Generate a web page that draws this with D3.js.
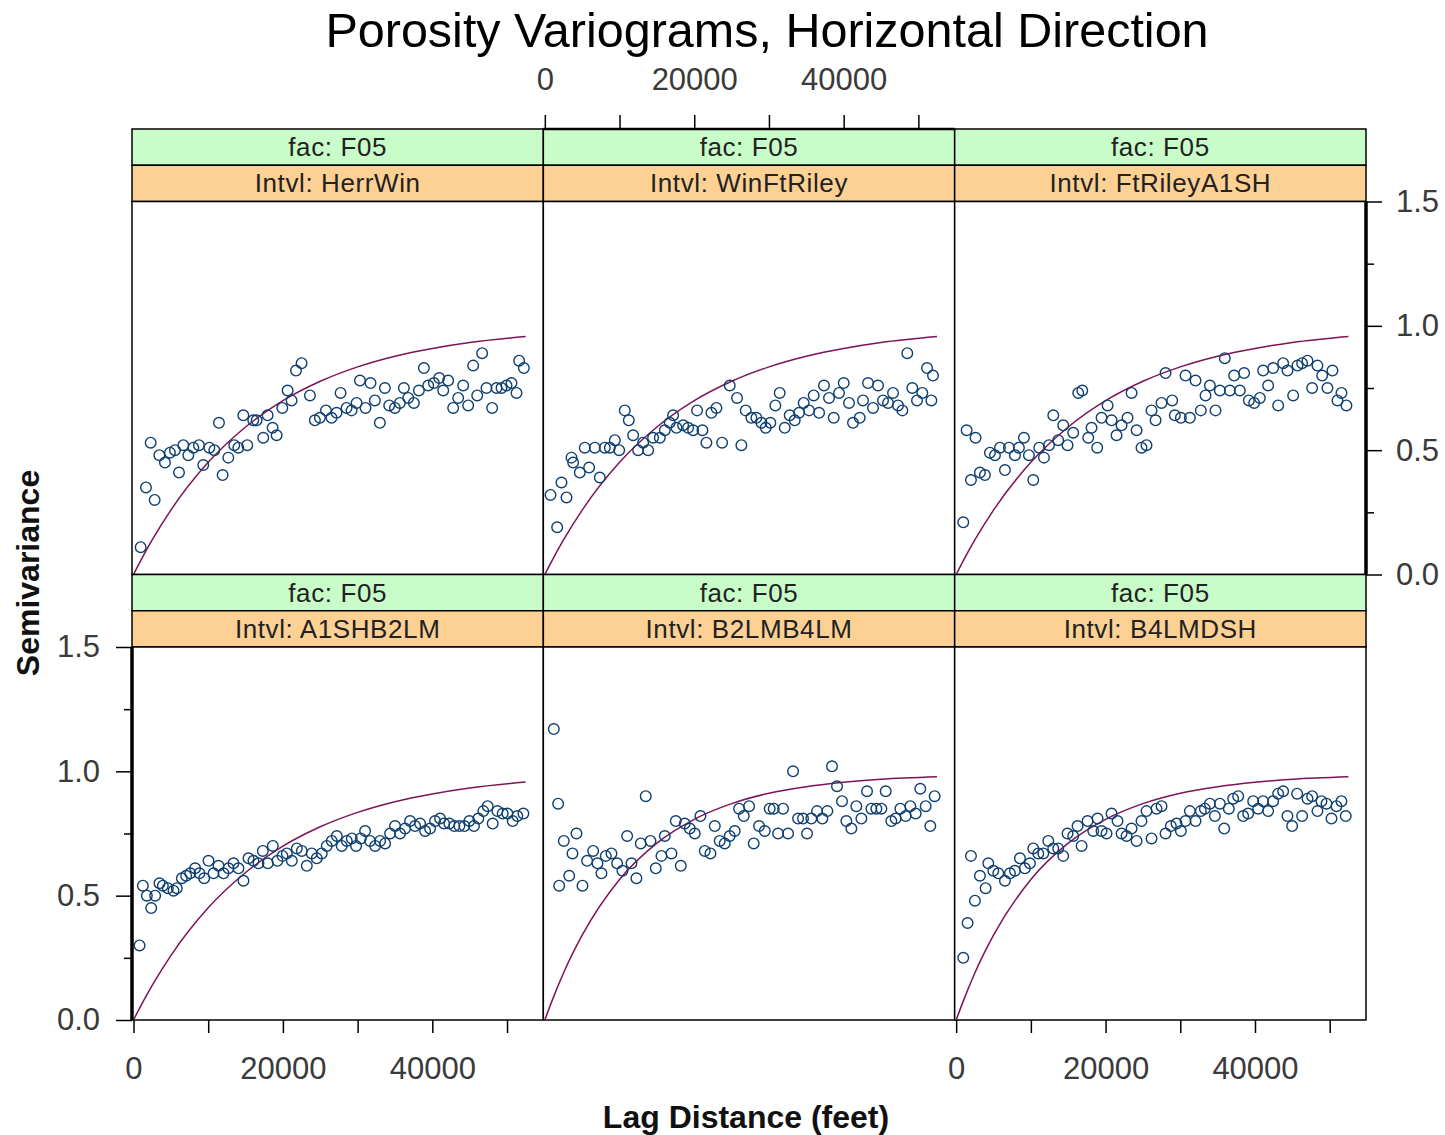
<!DOCTYPE html>
<html>
<head>
<meta charset="utf-8">
<script src="https://cdn.jsdelivr.net/npm/d3@7"></script>
<style>
  html, body { margin: 0; padding: 0; background: #ffffff; }
  svg { display: block; font-family: "Liberation Sans", Arial, sans-serif; }
</style>
</head>
<body>
<svg id="chart" width="1445" height="1135"></svg>
<script>
// ---------------- DATA ----------------
const facLabel = "F05";
const intervals = ["HerrWin", "WinFtRiley", "FtRileyA1SH", "A1SHB2LM", "B2LMB4LM", "B4LMDSH"];

const lagHerrWin = [960,1670,2830,2300,3460,4210,4880,5550,6090,6670,7340,8010,8760,9340,10150,10820,11440,11930,12690,13490,14030,14700,15230,16030,16480,17370,17950,18620,19160,19920,20630,21160,21750,22500,23620,24280,24950,25760,26510,27180,27720,28520,29190,29860,30310,31060,31730,32310,32980,33650,34230,34990,35660,36190,36770,37530,38200,38870,39450,40210,40920,41460,42120,42790,43460,44130,44800,45470,46010,46670,47250,48010,48590,49260,49930,50600,51270,51620,52250];
const semHerrWin = [0.11,0.35,0.30,0.53,0.48,0.45,0.49,0.50,0.41,0.52,0.48,0.51,0.52,0.44,0.51,0.50,0.61,0.40,0.47,0.52,0.51,0.64,0.52,0.62,0.62,0.55,0.64,0.59,0.56,0.67,0.74,0.70,0.82,0.85,0.72,0.62,0.63,0.66,0.63,0.65,0.73,0.67,0.66,0.69,0.78,0.67,0.77,0.70,0.61,0.75,0.68,0.67,0.69,0.75,0.71,0.69,0.74,0.83,0.76,0.77,0.79,0.74,0.78,0.67,0.71,0.76,0.68,0.84,0.72,0.89,0.75,0.67,0.75,0.75,0.76,0.77,0.73,0.86,0.83];

const lagWinFtRiley = [1650,760,2230,2900,3570,3790,4680,5350,5930,6690,7360,8030,8700,9370,9950,10700,11240,11820,12490,13160,13830,14490,15390,16060,16720,17170,17620,18510,19180,19850,20380,21100,21630,22300,22970,23730,24750,25730,26310,26890,27650,28320,28990,29570,30190,30860,31440,32110,32780,33450,34030,34650,35370,35990,36710,37370,38040,38670,39380,40010,40720,41250,42150,42590,43260,43930,44600,45270,45940,46610,47280,47860,48520,49190,49820,50530,51160,51740,51960];
const semWinFtRiley = [0.19,0.32,0.37,0.31,0.47,0.45,0.41,0.51,0.43,0.51,0.39,0.51,0.51,0.54,0.50,0.66,0.62,0.56,0.50,0.53,0.50,0.55,0.55,0.58,0.61,0.64,0.59,0.60,0.59,0.58,0.66,0.58,0.53,0.65,0.67,0.53,0.76,0.71,0.52,0.66,0.63,0.63,0.61,0.59,0.61,0.68,0.73,0.59,0.64,0.62,0.65,0.69,0.66,0.72,0.65,0.76,0.71,0.63,0.73,0.77,0.69,0.61,0.63,0.70,0.77,0.67,0.76,0.70,0.69,0.73,0.68,0.66,0.89,0.75,0.70,0.73,0.83,0.70,0.80];

const lagFtRileyA1SH = [950,1400,2600,1980,3180,3850,4520,5190,5860,6530,7060,7870,8400,9070,9740,10320,11120,11750,12420,13000,13660,14330,14910,15670,16340,16880,17680,18120,18880,19460,20270,20800,21470,22140,22940,23480,24150,24810,25480,26150,26690,27490,28030,28920,29270,30080,30700,31280,32040,32750,33380,33960,34720,35300,35960,36630,37210,37970,38550,39180,39890,40650,41090,41760,42430,43100,43770,44350,45110,45690,46310,47030,47650,48360,48990,49700,50370,51040,51570,52240];
const semFtRileyA1SH = [0.21,0.58,0.55,0.38,0.41,0.40,0.49,0.48,0.51,0.42,0.51,0.48,0.51,0.55,0.48,0.38,0.51,0.47,0.52,0.64,0.54,0.60,0.52,0.57,0.73,0.74,0.55,0.59,0.51,0.63,0.68,0.62,0.56,0.60,0.63,0.73,0.58,0.51,0.52,0.66,0.62,0.69,0.81,0.70,0.64,0.63,0.80,0.63,0.78,0.66,0.72,0.76,0.66,0.74,0.87,0.74,0.80,0.74,0.81,0.70,0.69,0.71,0.82,0.76,0.83,0.68,0.85,0.82,0.72,0.84,0.85,0.86,0.75,0.84,0.80,0.75,0.82,0.70,0.73,0.68];

const lagA1SHB2LM = [810,1250,1790,2370,2900,3480,3930,4600,5360,5800,6470,7050,7590,8250,8830,9460,10040,10710,11380,12050,12710,13380,14050,14720,15390,16060,16730,17310,17980,18650,19270,19940,20520,21190,21860,22530,23200,23860,24530,25200,25870,26540,27210,27880,28550,29220,29800,30420,31000,31670,32340,33010,33680,34350,35010,35680,36350,37020,37690,38360,39030,39700,40370,41040,41570,42280,42950,43620,44290,44960,45580,46160,46830,47410,48080,48710,49420,50050,50760,51380,52190];
const semA1SHB2LM = [0.30,0.54,0.50,0.45,0.50,0.55,0.54,0.53,0.52,0.53,0.57,0.58,0.59,0.61,0.59,0.57,0.64,0.59,0.62,0.59,0.61,0.63,0.61,0.56,0.65,0.64,0.63,0.68,0.63,0.70,0.64,0.66,0.67,0.64,0.69,0.68,0.62,0.67,0.65,0.67,0.70,0.72,0.74,0.70,0.72,0.73,0.70,0.73,0.76,0.72,0.70,0.72,0.71,0.75,0.78,0.75,0.77,0.80,0.78,0.79,0.76,0.77,0.80,0.81,0.79,0.79,0.78,0.78,0.78,0.80,0.78,0.81,0.84,0.86,0.79,0.84,0.83,0.83,0.80,0.82,0.83];

const lagB2LMB4LM = [1200,1780,1920,2540,3260,3700,4240,5040,5660,6470,7050,7580,8160,8920,9680,10390,11020,11600,12260,12840,13510,14140,14850,15610,16060,16950,17530,18200,18730,19400,20070,20830,21410,22170,22750,23410,24080,24750,25420,26000,26630,27340,27960,28680,29440,30100,30640,31220,31890,32560,33230,33900,34560,35100,35670,36440,37150,37820,38440,39110,39780,40360,41030,41700,42370,43130,43710,44380,45050,45630,46380,46960,47590,48300,48930,49640,50260,50980,51600,52180];
const semB2LMB4LM = [1.17,0.87,0.54,0.72,0.58,0.67,0.75,0.54,0.64,0.68,0.63,0.59,0.66,0.67,0.63,0.60,0.74,0.63,0.57,0.71,0.90,0.72,0.61,0.66,0.74,0.67,0.80,0.62,0.79,0.77,0.75,0.82,0.68,0.67,0.78,0.72,0.71,0.74,0.76,0.85,0.82,0.86,0.71,0.78,0.76,0.85,0.85,0.75,0.85,0.75,1.00,0.81,0.81,0.75,0.81,0.84,0.81,0.84,1.02,0.94,0.88,0.80,0.77,0.86,0.81,0.92,0.85,0.85,0.85,0.92,0.80,0.81,0.85,0.82,0.86,0.83,0.93,0.86,0.78,0.90];

const lagB4LMDSH = [950,1530,1980,2510,3180,3940,4300,4970,5640,6530,7200,7870,8540,9200,9870,10320,10990,11660,12330,13000,13660,14330,14910,15670,16250,16790,17590,18350,18930,19460,20130,20800,21600,22140,22810,23480,24150,24810,25480,26150,26820,27490,28030,28740,29500,30080,30700,31280,32040,32750,33290,33960,34630,35300,35880,36500,37080,37750,38420,39090,39760,40420,41090,41760,42430,43100,43770,44350,44970,45640,46310,47030,47650,48360,48900,49570,50240,50910,51570,52150];
const semB4LMDSH = [0.25,0.39,0.66,0.48,0.58,0.53,0.63,0.60,0.59,0.56,0.59,0.60,0.65,0.61,0.63,0.69,0.67,0.67,0.72,0.69,0.69,0.66,0.75,0.74,0.78,0.70,0.80,0.76,0.81,0.76,0.75,0.83,0.80,0.75,0.74,0.77,0.72,0.80,0.84,0.73,0.85,0.86,0.75,0.78,0.79,0.76,0.80,0.84,0.80,0.84,0.85,0.87,0.82,0.87,0.77,0.85,0.89,0.90,0.82,0.83,0.88,0.85,0.88,0.84,0.88,0.91,0.92,0.82,0.78,0.91,0.82,0.89,0.90,0.84,0.88,0.87,0.81,0.86,0.88,0.82];

// fitted model curves
const modelLag   = [0,1000,2500,5000,10000,15000,20000,25000,30000,35000,40000,45000,52500];
const modelLong  = [0,0.058,0.139,0.259,0.451,0.593,0.699,0.777,0.835,0.878,0.909,0.933,0.957];
const modelShort = [0,0.080,0.189,0.341,0.565,0.711,0.807,0.870,0.912,0.938,0.956,0.968,0.978];

const xTicks = [0,10000,20000,30000,40000,50000];
const xTickLabels = [0,20000,40000];
const yTicksMajor = [0,0.5,1.0,1.5];
const yTicksMinor = [0.25,0.75,1.25];

const panelLags = [lagHerrWin, lagWinFtRiley, lagFtRileyA1SH, lagA1SHB2LM, lagB2LMB4LM, lagB4LMDSH];
const panelSems = [semHerrWin, semWinFtRiley, semFtRileyA1SH, semA1SHB2LM, semB2LMB4LM, semB4LMDSH];
const panelModel = [modelLong, modelLong, modelLong, modelLong, modelShort, modelShort];

// ---------------- LAYOUT ----------------
const svg = d3.select("#chart");
const gridLeft = 132, gridRight = 1366, gridTop = 129;
const colW = (gridRight - gridLeft) / 3;
const stripH = 36.25, plotH = 373, rowH = 2 * stripH + plotH;
const fontTick = 31;

const green = "#c8fcc8", orange = "#fdd094";
const ptColor = "#0e3f6e", lineColor = "#7d1456";

svg.append("text")
  .attr("x", 767).attr("y", 47)
  .attr("text-anchor", "middle")
  .attr("font-size", 48.5)
  .attr("fill", "#000")
  .text("Porosity Variograms, Horizontal Direction");

const xDomain = [-200, 54860];
const yDomain = [0, 1.5];

intervals.forEach((iv, i) => {
  const row = Math.floor(i / 3), col = i % 3;
  const x0 = gridLeft + col * colW, x1 = x0 + colW;
  const sTop = gridTop + row * rowH;
  const pTop = sTop + 2 * stripH, pBot = pTop + plotH;

  const x = d3.scaleLinear().domain(xDomain).range([x0, x1]);
  const y = d3.scaleLinear().domain(yDomain).range([pBot, pTop]);

  const g = svg.append("g");

  // strips
  g.append("rect").attr("x", x0).attr("y", sTop).attr("width", colW).attr("height", stripH)
    .attr("fill", green).attr("stroke", "#000").attr("stroke-width", 1.5);
  g.append("rect").attr("x", x0).attr("y", sTop + stripH).attr("width", colW).attr("height", stripH)
    .attr("fill", orange).attr("stroke", "#000").attr("stroke-width", 1.5);
  g.append("text").attr("x", (x0 + x1) / 2).attr("y", sTop + stripH / 2 + 9)
    .attr("text-anchor", "middle").attr("font-size", 26).attr("letter-spacing", 0.6).attr("fill", "#222")
    .text("fac: " + facLabel);
  g.append("text").attr("x", (x0 + x1) / 2).attr("y", sTop + stripH * 1.5 + 9)
    .attr("text-anchor", "middle").attr("font-size", 26).attr("letter-spacing", 0.6).attr("fill", "#222")
    .text("Intvl: " + iv);

  // panel
  g.append("rect").attr("x", x0).attr("y", pTop).attr("width", colW).attr("height", plotH)
    .attr("fill", "#fff").attr("stroke", "#000").attr("stroke-width", 1.5);

  // model curve
  const line = d3.line().x((d, k) => x(modelLag[k])).y(d => y(d)).curve(d3.curveMonotoneX);
  g.append("path").attr("d", line(panelModel[i]))
    .attr("fill", "none").attr("stroke", lineColor).attr("stroke-width", 1.5);

  // points
  const lags = panelLags[i], sems = panelSems[i];
  const n = Math.min(lags.length, sems.length);
  const pts = d3.range(n).map(k => ({ h: lags[k], v: sems[k] }));
  g.selectAll("circle").data(pts).join("circle")
    .attr("cx", d => x(d.h)).attr("cy", d => y(d.v)).attr("r", 5.3)
    .attr("fill", "none").attr("stroke", ptColor).attr("stroke-width", 1.4);

  // axes
  const styleAxis = sel => {
    sel.select(".domain").remove();
    sel.selectAll("line").attr("stroke", "#000").attr("stroke-width", 1.5);
    sel.selectAll("text").attr("font-size", fontTick).attr("fill", "#3a3a3a")
      .attr("font-family", "'Liberation Sans', Arial, sans-serif");
  };
  const fmtX = d => xTickLabels.includes(d) ? d3.format("d")(d) : "";
  const fmtY = d3.format(".1f");

  if (row === 0 && col === 1) {
    svg.append("g").attr("transform", `translate(0,${sTop})`)
      .call(d3.axisTop(x).tickValues(xTicks).tickSize(14).tickPadding(25).tickFormat(fmtX))
      .call(styleAxis);
    svg.append("line").attr("x1", x0).attr("x2", x1).attr("y1", sTop).attr("y2", sTop)
      .attr("stroke", "#000").attr("stroke-width", 2.5);
  }
  if (row === 1 && col !== 1) {
    svg.append("g").attr("transform", `translate(0,${pBot})`)
      .call(d3.axisBottom(x).tickValues(xTicks).tickSize(13).tickPadding(24).tickFormat(fmtX))
      .call(styleAxis);
  }
  if (row === 1 && col === 0) {
    svg.append("g").attr("transform", `translate(${x0},0)`)
      .call(d3.axisLeft(y).tickValues(yTicksMajor).tickSize(16).tickPadding(16).tickFormat(fmtY))
      .call(styleAxis);
    svg.append("g").attr("transform", `translate(${x0},0)`)
      .call(d3.axisLeft(y).tickValues(yTicksMinor).tickSize(8).tickFormat(""))
      .call(styleAxis);
    svg.append("line").attr("x1", x0).attr("x2", x0).attr("y1", pTop).attr("y2", pBot)
      .attr("stroke", "#000").attr("stroke-width", 3.5);
  }
  if (row === 0 && col === 2) {
    svg.append("g").attr("transform", `translate(${x1},0)`)
      .call(d3.axisRight(y).tickValues(yTicksMajor).tickSize(16).tickPadding(14).tickFormat(fmtY))
      .call(styleAxis);
    svg.append("g").attr("transform", `translate(${x1},0)`)
      .call(d3.axisRight(y).tickValues(yTicksMinor).tickSize(8).tickFormat(""))
      .call(styleAxis);
    svg.append("line").attr("x1", x1).attr("x2", x1).attr("y1", pTop).attr("y2", pBot)
      .attr("stroke", "#000").attr("stroke-width", 3.5);
  }
});

// axis titles
svg.append("text")
  .attr("x", 746).attr("y", 1128)
  .attr("text-anchor", "middle").attr("font-size", 32).attr("font-weight", "bold").attr("fill", "#111")
  .text("Lag Distance (feet)");
svg.append("text")
  .attr("transform", "translate(39,573) rotate(-90)")
  .attr("text-anchor", "middle").attr("font-size", 32).attr("font-weight", "bold").attr("fill", "#111")
  .text("Semivariance");
</script>
</body>
</html>
